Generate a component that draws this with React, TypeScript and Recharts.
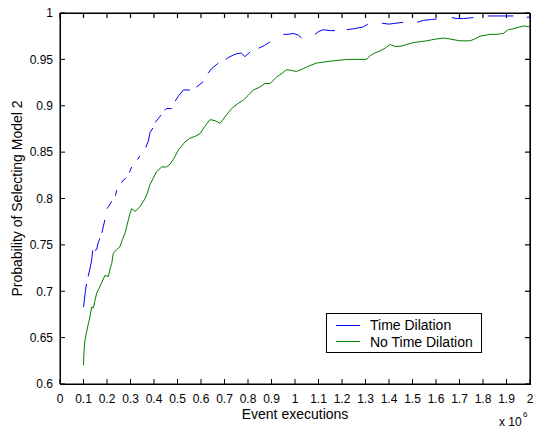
import React from 'react';
import { LineChart, Line, XAxis, YAxis, ReferenceLine } from 'recharts';

document.body.style.margin = '0';

// x values are in units of 10^6 event executions
const timeDilationX = [
  0.1, 0.108, 0.113, 0.116, 0.12, 0.128, 0.135, 0.139, 0.145, 0.148, 0.156, 0.162, 0.17, 0.174, 0.178, 0.191,
  0.197, 0.2, 0.206, 0.22, 0.228, 0.236, 0.241, 0.25, 0.262, 0.27, 0.28, 0.287, 0.295, 0.305, 0.318, 0.33,
  0.34, 0.353, 0.365, 0.376, 0.383, 0.395, 0.4, 0.405, 0.418, 0.43, 0.438, 0.445, 0.454, 0.475, 0.483, 0.49,
  0.503, 0.525, 0.553, 0.567, 0.58, 0.61, 0.62, 0.63, 0.645, 0.674, 0.69, 0.705, 0.716, 0.74, 0.752, 0.77,
  0.787, 0.809, 0.827, 0.845, 0.87, 0.894, 0.92, 0.95, 0.97, 0.993, 1.015, 1.028, 1.056, 1.085, 1.1, 1.12,
  1.15, 1.17, 1.195, 1.22, 1.25, 1.29, 1.31, 1.34, 1.37, 1.4, 1.43, 1.46, 1.49, 1.52, 1.546, 1.58,
  1.603, 1.635, 1.667, 1.69, 1.716, 1.759, 1.79, 1.82, 1.86, 1.929, 1.958, 1.986, 2.0,
];
const timeDilationY: (number | null)[] = [
  0.683, 0.7, 0.708, null, 0.716, 0.725, 0.734, 0.744, null, 0.744, 0.745, 0.752, 0.757, null, 0.763, 0.777,
  null, 0.789, 0.791, 0.797, null, 0.803, 0.809, null, 0.817, 0.82, 0.822, null, 0.828, 0.834, null, 0.842,
  0.846, null, 0.855, 0.862, 0.871, 0.876, null, 0.882, 0.886, 0.89, null, 0.895, 0.897, 0.897, null, 0.905,
  0.91, 0.917, 0.917, null, 0.92, 0.926, null, 0.935, 0.94, 0.946, null, 0.95, 0.952, 0.955, 0.956, 0.957,
  0.953, 0.958, null, 0.962, 0.965, 0.969, null, 0.977, 0.977, 0.978, 0.976, 0.973, null, 0.977, 0.98, 0.982,
  0.981, 0.981, null, 0.982, 0.983, 0.985, 0.988, null, 0.989, 0.988, 0.989, 0.99, null, 0.99, 0.992, 0.993,
  0.9935, null, 0.995, 0.994, 0.994, 0.995, null, 0.9968, 0.9968, 0.9968, null, 0.9955, 0.9955,
];

const noDilationX = [
  0.1, 0.102, 0.106, 0.112, 0.12, 0.127, 0.135, 0.142, 0.149, 0.156, 0.166, 0.177, 0.191, 0.206, 0.213, 0.22,
  0.227, 0.241, 0.255, 0.266, 0.277, 0.291, 0.298, 0.305, 0.319, 0.34, 0.362, 0.372, 0.383, 0.397, 0.411, 0.433,
  0.454, 0.468, 0.482, 0.503, 0.532, 0.553, 0.575, 0.596, 0.617, 0.638, 0.66, 0.681, 0.705, 0.73, 0.755, 0.78,
  0.8, 0.823, 0.85, 0.872, 0.894, 0.922, 0.945, 0.965, 0.985, 1.007, 1.035, 1.06, 1.092, 1.12, 1.149, 1.185,
  1.22, 1.26, 1.305, 1.319, 1.34, 1.362, 1.383, 1.404, 1.425, 1.447, 1.475, 1.503, 1.53, 1.56, 1.58, 1.603,
  1.63, 1.66, 1.68, 1.702, 1.745, 1.765, 1.787, 1.81, 1.83, 1.86, 1.886, 1.908, 1.93, 1.957, 1.975, 2.0,
];
const noDilationY = [
  0.62, 0.635, 0.647, 0.655, 0.664, 0.672, 0.683, 0.682, 0.69, 0.698, 0.703, 0.709, 0.717, 0.716, 0.724, 0.73,
  0.741, 0.745, 0.748, 0.756, 0.763, 0.777, 0.784, 0.789, 0.786, 0.791, 0.8, 0.806, 0.815, 0.822, 0.829, 0.834,
  0.834, 0.837, 0.842, 0.852, 0.861, 0.865, 0.867, 0.87, 0.878, 0.885, 0.884, 0.881, 0.889, 0.897, 0.902, 0.906,
  0.911, 0.917, 0.92, 0.924, 0.924, 0.931, 0.935, 0.939, 0.938, 0.937, 0.94, 0.943, 0.946, 0.947, 0.948, 0.949,
  0.95, 0.95, 0.95, 0.954, 0.957, 0.959, 0.962, 0.966, 0.964, 0.964, 0.966, 0.968, 0.969, 0.97, 0.971, 0.972,
  0.973, 0.972, 0.971, 0.97, 0.97, 0.972, 0.975, 0.976, 0.977, 0.977, 0.978, 0.982, 0.983, 0.985, 0.986, 0.985,
];

const xTicks = [0, 0.1, 0.2, 0.3, 0.4, 0.5, 0.6, 0.7, 0.8, 0.9, 1, 1.1, 1.2, 1.3, 1.4, 1.5, 1.6, 1.7, 1.8, 1.9, 2];
const yTicks = [0.6, 0.65, 0.7, 0.75, 0.8, 0.85, 0.9, 0.95, 1];

const seriesNames = ['Time Dilation', 'No Time Dilation'];
const seriesColors = ['#0000ff', '#008000'];

const timeDilationData = timeDilationX.map((x, i) => ({ x, p: timeDilationY[i] }));
const noDilationData = noDilationX.map((x, i) => ({ x, p: noDilationY[i] }));

const font = '"Liberation Sans", Arial, sans-serif';

// plot box edges (from chart margins), used for the mirrored ticks on top/right
const PLOT_TOP = 13;
const PLOT_RIGHT = 530;
const PLOT_LEFT = 60;
const PLOT_BOTTOM = 384;

const XTick = (props: any) => {
  const { x, y, payload } = props;
  return (
    <g>
      <line x1={x} x2={x} y1={PLOT_TOP} y2={PLOT_TOP + 5} stroke="#000" strokeWidth={1.2} />
      <text x={x} y={y} dy="0.71em" textAnchor="middle" fontSize={12} fontFamily={font} fill="#000">
        {payload.value}
      </text>
    </g>
  );
};

const YTick = (props: any) => {
  const { x, y, payload } = props;
  return (
    <g>
      <line x1={PLOT_RIGHT - 5} x2={PLOT_RIGHT} y1={y} y2={y} stroke="#000" strokeWidth={1.2} />
      <text x={x} y={y} dy="0.355em" textAnchor="end" fontSize={12} fontFamily={font} fill="#000">
        {payload.value}
      </text>
    </g>
  );
};

const LegendBox = () => (
  <div
    style={{
      position: 'absolute',
      left: 326,
      top: 313,
      border: '1px solid #000',
      background: '#fff',
      width: 154,
      height: 35,
      fontFamily: font,
      fontSize: 14,
      color: '#000',
      paddingTop: 3,
    }}
  >
    {seriesNames.map((name, i) => (
      <div key={name} style={{ display: 'flex', alignItems: 'center', height: 16.5 }}>
        <span style={{ display: 'inline-block', width: 24, height: 1, background: seriesColors[i], marginLeft: 9, marginRight: 10 }} />
        <span>{name}</span>
      </div>
    ))}
  </div>
);

const renderYLabel = (props: any) => {
  const { viewBox } = props;
  const cx = viewBox.x + 22;
  const cy = viewBox.y + viewBox.height / 2;
  return (
    <text x={cx} y={cy} transform={`rotate(-90, ${cx}, ${cy})`} textAnchor="middle" fontSize={14} fontFamily={font} fill="#000">
      Probability of Selecting Model 2
    </text>
  );
};

const renderXLabel = (props: any) => {
  const { viewBox } = props;
  const cx = viewBox.x + viewBox.width / 2;
  return (
    <g fontFamily={font} fill="#000">
      <text x={cx} y={viewBox.y + 35} textAnchor="middle" fontSize={14}>
        Event executions
      </text>
      <text x={viewBox.x + viewBox.width - 31} y={viewBox.y + 42} fontSize={12}>
        x 10
      </text>
      <text x={viewBox.x + viewBox.width - 7} y={viewBox.y + 33} fontSize={8}>
        6
      </text>
    </g>
  );
};

export default function App() {
  return (
    <div style={{ position: 'relative', width: 535, height: 429, background: '#fff' }}>
      <LineChart width={535} height={429} margin={{ top: PLOT_TOP, right: 535 - PLOT_RIGHT, bottom: 0, left: 0 }}>
        <XAxis
          dataKey="x"
          type="number"
          domain={[0, 2]}
          ticks={xTicks}
          interval={0}
          height={429 - PLOT_BOTTOM}
          stroke="#000"
          tickSize={-5}
          tickMargin={15}
          tick={<XTick />}
          label={{ content: renderXLabel }}
        />
        <YAxis
          type="number"
          domain={[0.6, 1]}
          ticks={yTicks}
          interval={0}
          width={PLOT_LEFT}
          stroke="#000"
          tickSize={-5}
          tickMargin={12}
          tick={<YTick />}
          label={{ content: renderYLabel }}
        />
        <ReferenceLine y={1} stroke="#000" strokeWidth={1.2} ifOverflow="visible" />
        <ReferenceLine x={2} stroke="#000" strokeWidth={1.2} ifOverflow="visible" />
        <Line
          data={timeDilationData}
          dataKey="p"
          name="Time Dilation"
          type="linear"
          stroke={seriesColors[0]}
          strokeWidth={1}
          dot={false}
          connectNulls={false}
          isAnimationActive={false}
        />
        <Line
          data={noDilationData}
          dataKey="p"
          name="No Time Dilation"
          type="linear"
          stroke={seriesColors[1]}
          strokeWidth={1}
          dot={false}
          isAnimationActive={false}
        />
      </LineChart>
      <div
        style={{
          position: 'absolute',
          left: PLOT_LEFT,
          top: PLOT_TOP,
          width: PLOT_RIGHT - PLOT_LEFT + 1,
          height: PLOT_BOTTOM - PLOT_TOP + 1,
          boxSizing: 'border-box',
          border: '1px solid #000',
          pointerEvents: 'none',
        }}
      />
      <LegendBox />
    </div>
  );
}
